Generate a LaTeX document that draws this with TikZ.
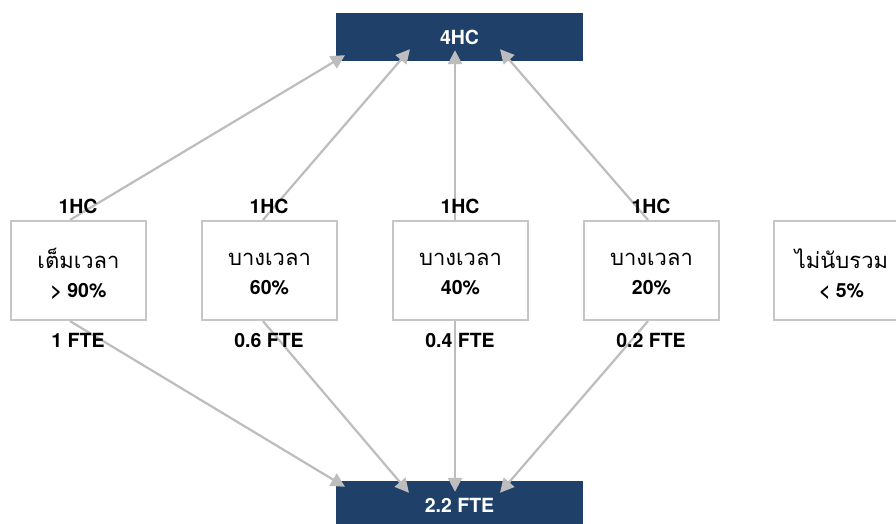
\documentclass[tikz,border=0pt]{standalone}
\usepackage{fontspec}
\setmainfont{TeX Gyre Heros}
\newfontfamily\thaifont[Script=Thai]{Loma}
\usetikzlibrary{arrows.meta}
\definecolor{navy}{HTML}{1F4068}
\definecolor{linegray}{HTML}{BDBDBD}
\definecolor{boxgray}{HTML}{C6C6C6}
\tikzset{
  headbox/.style={fill=navy, draw=none, minimum width=247pt, minimum height=48pt,
    inner sep=0pt, text=white, font=\fontsize{19.5}{22}\selectfont\bfseries},
  catbox/.style={draw=boxgray, line width=2.2pt, fill=white, minimum width=135pt,
    minimum height=99pt, inner sep=0pt},
  cattxt/.style={inner sep=0pt, align=center, font=\fontsize{19.5}{29}\selectfont},
  tag/.style={font=\fontsize{19.5}{22}\selectfont\bfseries, inner sep=0pt},
  arr/.style={draw=linegray, line width=2.2pt, -{Triangle[length=14pt,width=14pt]}}
}
\newcommand{\cattext}[2]{{\thaifont\fontsize{22}{29}\selectfont #1}\\{\bfseries #2}}
\begin{document}
\begin{tikzpicture}[x=1pt,y=-1pt]
  \clip (0,0) rectangle (896,524);
  \fill[white] (0,0) rectangle (896,524);

  % totals
  \node[headbox] (top) at (459.5,37) {4HC};
  \node[headbox] (bot) at (459.5,505) {2.2 FTE};

  % categories: frame, then its two-line caption
  \node[catbox] (b1) at (78.5,270.5) {};
  \node[catbox] (b2) at (269.5,270.5) {};
  \node[catbox] (b3) at (460.5,270.5) {};
  \node[catbox] (b4) at (651.5,270.5) {};
  \node[catbox] (b5) at (841.5,270.5) {};
  \node[cattxt] (t1) at ([yshift=-3.5pt]b1.center) {\cattext{เต็มเวลา}{> 90\%}};
  \node[cattxt] (t2) at ([yshift=-3.5pt]b2.center) {\cattext{บางเวลา}{60\%}};
  \node[cattxt] (t3) at ([yshift=-3.5pt]b3.center) {\cattext{บางเวลา}{40\%}};
  \node[cattxt] (t4) at ([yshift=-3.5pt]b4.center) {\cattext{บางเวลา}{20\%}};
  \node[cattxt] (t5) at ([yshift=-3.5pt]b5.center) {\cattext{ไม่นับรวม}{< 5\%}};

  % arrows up to the headcount total
  \draw[arr] ([xshift=-8.5pt]b1.north) -- ([xshift=-114.5pt,yshift=6pt]top.south);
  \draw[arr] ([xshift=-6.5pt]b2.north) -- ([xshift=-49.5pt,yshift=12pt]top.south);
  \draw[arr] ([xshift=-5.5pt]b3.north) -- ([xshift=-4.5pt,yshift=11pt]top.south);
  \draw[arr] ([xshift=-3.5pt]b4.north) -- ([xshift=40.5pt,yshift=12pt]top.south);

  % arrows down to the FTE total
  \draw[arr] ([xshift=-8.5pt]b1.south) -- ([xshift=-114.5pt,yshift=-6pt]bot.north);
  \draw[arr] ([xshift=-6.5pt]b2.south) -- ([xshift=-50.5pt,yshift=-12pt]bot.north);
  \draw[arr] ([xshift=-5.5pt]b3.south) -- ([xshift=-4.5pt,yshift=-11pt]bot.north);
  \draw[arr] ([xshift=-3.5pt]b4.south) -- ([xshift=40.5pt,yshift=-12pt]bot.north);

  % labels above and below
  \node[tag] (h1) at (78,206) {1HC};
  \node[tag] (h2) at (269,206) {1HC};
  \node[tag] (h3) at (460,206) {1HC};
  \node[tag] (h4) at (651,206) {1HC};
  \node[tag] (f1) at (78,340) {1 FTE};
  \node[tag] (f2) at (269,340) {0.6 FTE};
  \node[tag] (f3) at (460,340) {0.4 FTE};
  \node[tag] (f4) at (651,340) {0.2 FTE};
\end{tikzpicture}
\end{document}
